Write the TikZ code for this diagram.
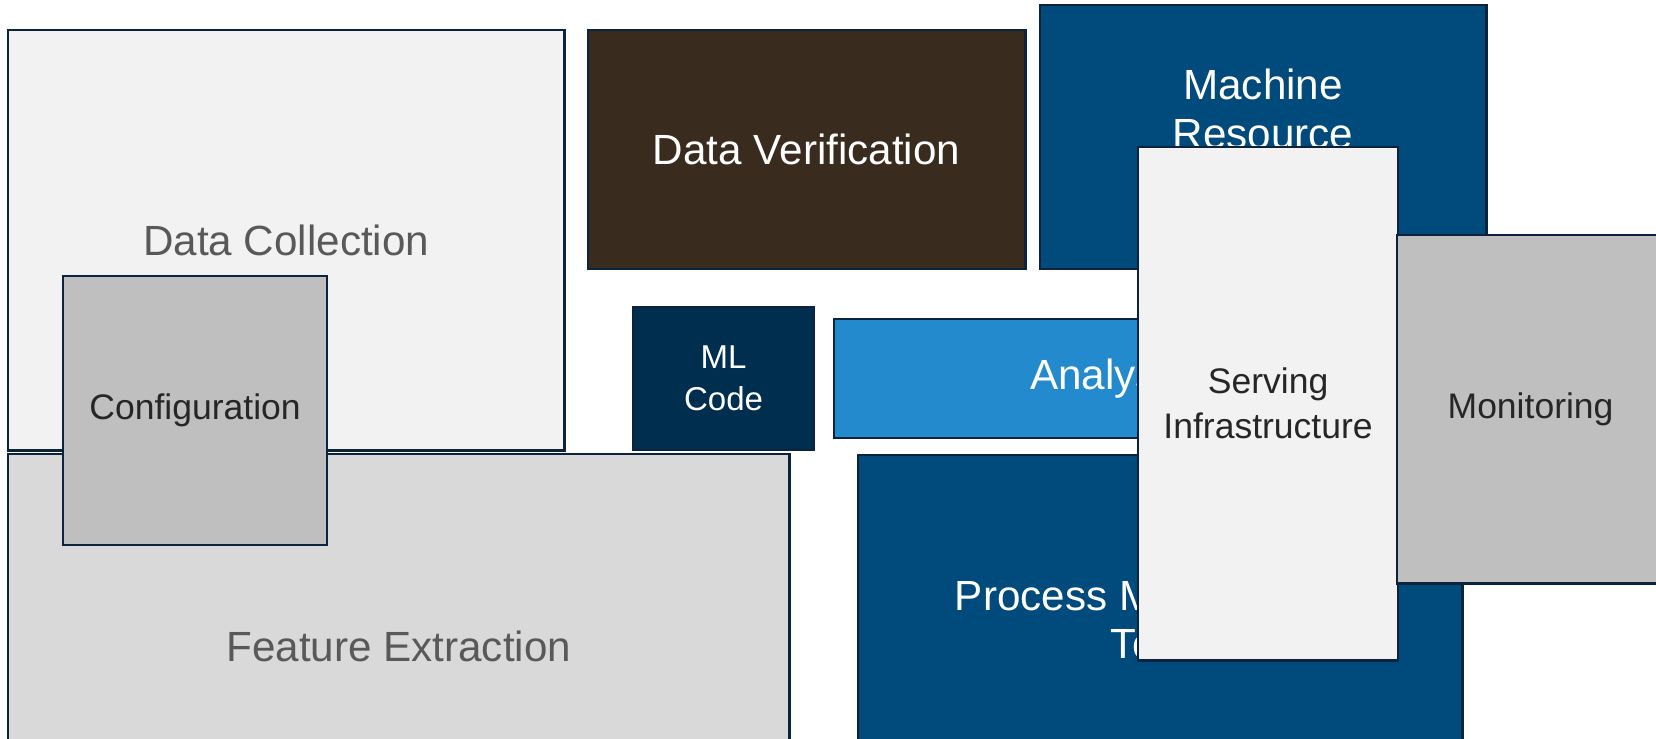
\documentclass[tikz,border=0pt]{standalone}
\usepackage{fontspec}
\setmainfont{Liberation Sans}
\definecolor{edgenavy}{RGB}{12,35,64}
\definecolor{paleGray}{HTML}{F2F2F2}
\definecolor{lightGray}{HTML}{D9D9D9}
\definecolor{silverGray}{HTML}{BFBFBF}
\definecolor{textGray}{HTML}{595959}
\definecolor{darkText}{HTML}{262626}
\definecolor{brownBox}{HTML}{3A2B1F}
\definecolor{navyBox}{HTML}{004A7C}
\definecolor{deepNavy}{HTML}{002E4F}
\definecolor{skyBox}{HTML}{238BCD}

\begin{document}
\begin{tikzpicture}[x=0.01cm,y=-0.01cm]
   \tikzset{Block/.style={rectangle, draw=edgenavy, line width=0.75pt,
      anchor=north west, inner sep=0pt, outer sep=0pt, align=center}}
   \tikzset{BigText/.style={font=\fontsize{12}{13.7}\selectfont}}
   \tikzset{MidText/.style={font=\fontsize{10.1}{12.8}\selectfont}}
   \useasboundingbox (0,0) rectangle (1656,738);
   % left column
   \node[Block, BigText, fill=paleGray, text=textGray,
      minimum width=5.56cm, minimum height=4.20cm] (collect) at (8,30) {Data Collection};
   \node[Block, BigText, fill=lightGray, text=textGray,
      minimum width=7.81cm, minimum height=3.84cm] (feature) at (8,454) {Feature Extraction};
   \node[Block, MidText, fill=silverGray, text=darkText,
      minimum width=2.64cm, minimum height=2.69cm] (config) at (63,276) {Configuration};
   % middle
   \node[Block, BigText, fill=brownBox, text=white,
      minimum width=4.37cm, minimum height=2.39cm] (verify) at (588,30) {Data Verification};
   \node[Block, BigText, fill=navyBox, text=white,
      minimum width=4.46cm, minimum height=2.64cm] (resource) at (1040,5) {Machine\\Resource\\Management};
   \node[Block, font=\fontsize{9.4}{12}\selectfont, fill=deepNavy, text=white,
      minimum width=1.81cm, minimum height=1.43cm] (mlcode) at (633,307) {ML\\Code};
   \node[Block, BigText, fill=skyBox, text=white,
      minimum width=5.49cm, minimum height=1.19cm] (analysis) at (834,319) {Analysis};
   \node[Block, BigText, fill=navyBox, text=white,
      minimum width=6.04cm, minimum height=3.30cm] (process) at (858,455) {Process Management\\Tools};
   % right column
   \node[Block, MidText, fill=paleGray, text=darkText,
      minimum width=2.60cm, minimum height=5.13cm] (serving) at (1138,147) {Serving\\Infrastructure};
   \node[Block, MidText, fill=silverGray, text=darkText,
      minimum width=2.67cm, minimum height=3.48cm] (monitor) at (1397,235) {Monitoring};
\end{tikzpicture}
\end{document}
